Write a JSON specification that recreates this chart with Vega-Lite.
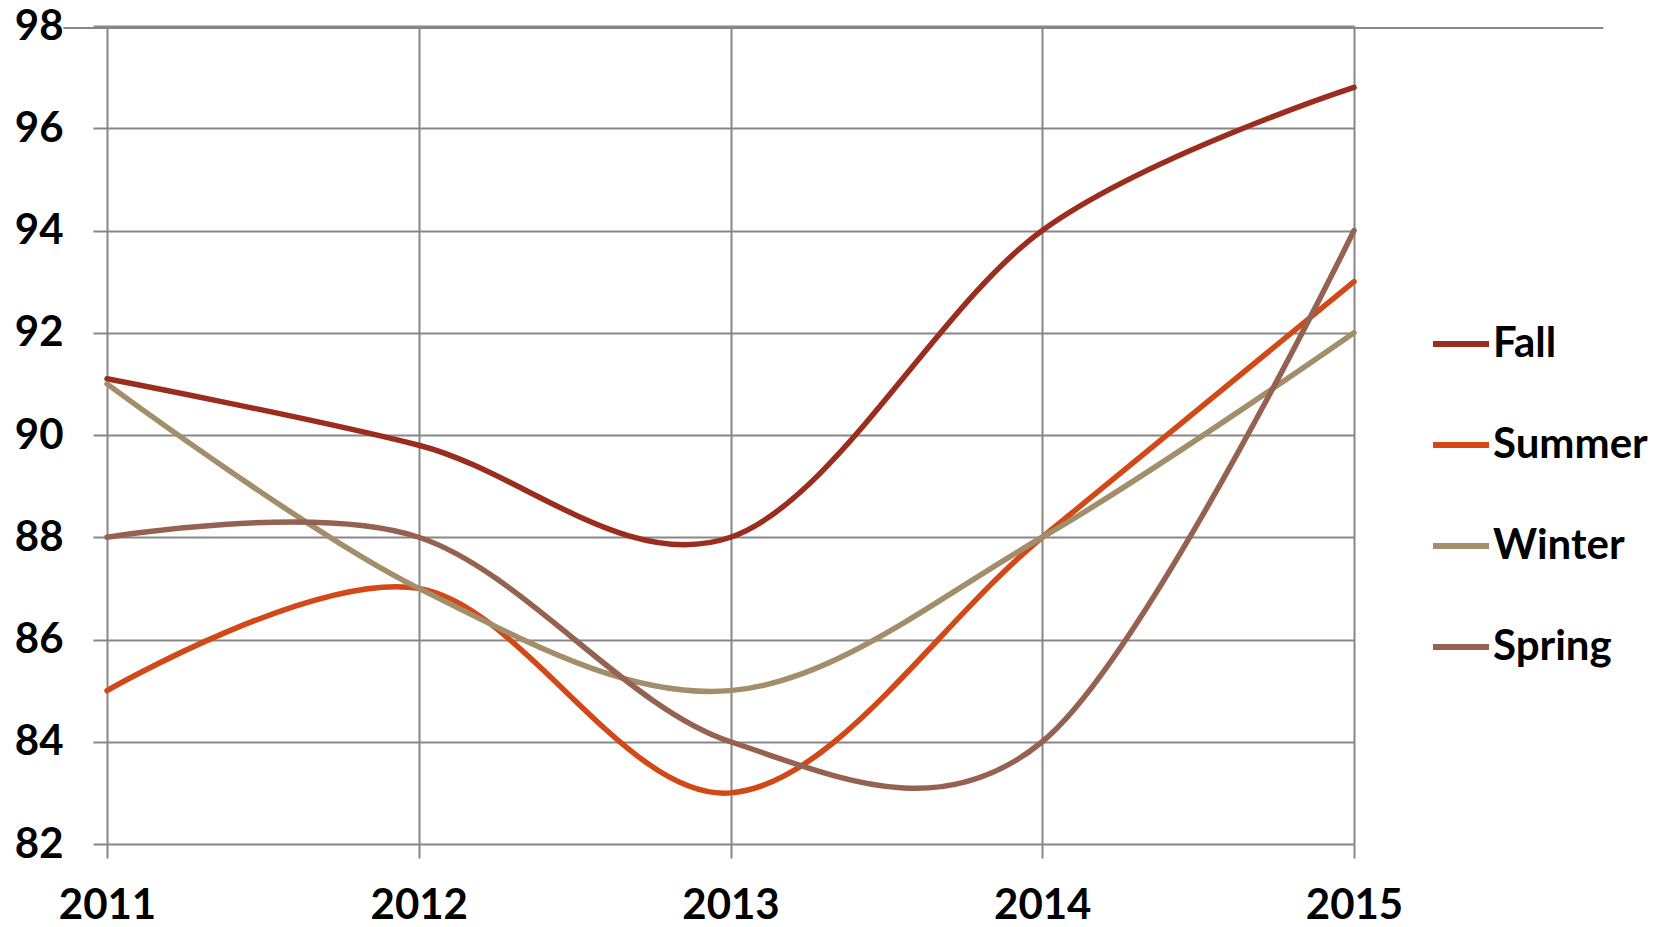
{
  "$schema": "https://vega.github.io/schema/vega-lite/v6.json",
  "autosize": "none",
  "width": 1247,
  "height": 818,
  "padding": {"left": 107, "top": 26, "right": 321, "bottom": 83},
  "background": "white",
  "config": {
    "view": {"stroke": null},
    "font": "Lato",
    "axis": {
      "labelFont": "Lato",
      "labelFontWeight": "bold",
      "labelFontSize": 42,
      "labelColor": "#000000",
      "gridColor": "#878787",
      "gridWidth": 2,
      "gridOpacity": 1,
      "tickColor": "#878787",
      "tickWidth": 2,
      "tickSize": 14,
      "domainColor": "#878787",
      "domainWidth": 2.5,
      "title": null
    }
  },
  "layer": [
    {
      "data": {"values": [{}]},
      "mark": {"type": "rule", "color": "#878787", "strokeWidth": 2},
      "encoding": {
        "x": {"datum": 2010.86, "type": "quantitative"},
        "x2": {"datum": 2015.8},
        "y": {"datum": 97.96, "type": "quantitative"}
      }
    },
    {
      "data": {
        "values": [
          {"year": 2011, "season": "Fall", "value": 91.1},
          {"year": 2012, "season": "Fall", "value": 89.8},
          {"year": 2013, "season": "Fall", "value": 88.0},
          {"year": 2014, "season": "Fall", "value": 94.0},
          {"year": 2015, "season": "Fall", "value": 96.8},
          {"year": 2011, "season": "Summer", "value": 85},
          {"year": 2012, "season": "Summer", "value": 87},
          {"year": 2013, "season": "Summer", "value": 83},
          {"year": 2014, "season": "Summer", "value": 88},
          {"year": 2015, "season": "Summer", "value": 93},
          {"year": 2011, "season": "Winter", "value": 91},
          {"year": 2012, "season": "Winter", "value": 87},
          {"year": 2013, "season": "Winter", "value": 85},
          {"year": 2014, "season": "Winter", "value": 88},
          {"year": 2015, "season": "Winter", "value": 92},
          {"year": 2011, "season": "Spring", "value": 88},
          {"year": 2012, "season": "Spring", "value": 88},
          {"year": 2013, "season": "Spring", "value": 84},
          {"year": 2014, "season": "Spring", "value": 84},
          {"year": 2015, "season": "Spring", "value": 94}
        ]
      },
      "mark": {"type": "line", "interpolate": "cardinal", "tension": 0, "strokeWidth": 5.5, "strokeCap": "round", "strokeJoin": "round"},
      "encoding": {
        "x": {
          "field": "year",
          "type": "quantitative",
          "scale": {"domain": [2011, 2015], "nice": false, "zero": false},
          "axis": {"values": [2011, 2012, 2013, 2014, 2015], "format": "d", "grid": true, "domain": false, "labelPadding": 27, "labelFlush": false}
        },
        "y": {
          "field": "value",
          "type": "quantitative",
          "scale": {"domain": [82, 98], "nice": false, "zero": false},
          "axis": {"values": [82, 84, 86, 88, 90, 92, 94, 96, 98], "grid": true, "domain": false, "labelPadding": 30}
        },
        "color": {
          "field": "season",
          "type": "nominal",
          "sort": ["Fall", "Summer", "Winter", "Spring"],
          "scale": {"domain": ["Fall", "Summer", "Winter", "Spring"], "range": ["#9B2D1F", "#D34817", "#A28E6A", "#956251"]},
          "legend": {
            "title": null,
            "orient": "none",
            "legendX": 1323,
            "legendY": 287,
            "symbolType": "stroke",
            "symbolSize": 3136,
            "symbolStrokeWidth": 6,
            "labelFont": "Lato",
            "labelFontWeight": "bold",
            "labelFontSize": 42,
            "labelColor": "#000000",
            "labelOffset": 1,
            "rowPadding": 49,
            "labelLimit": 400
          }
        }
      }
    }
  ]
}
